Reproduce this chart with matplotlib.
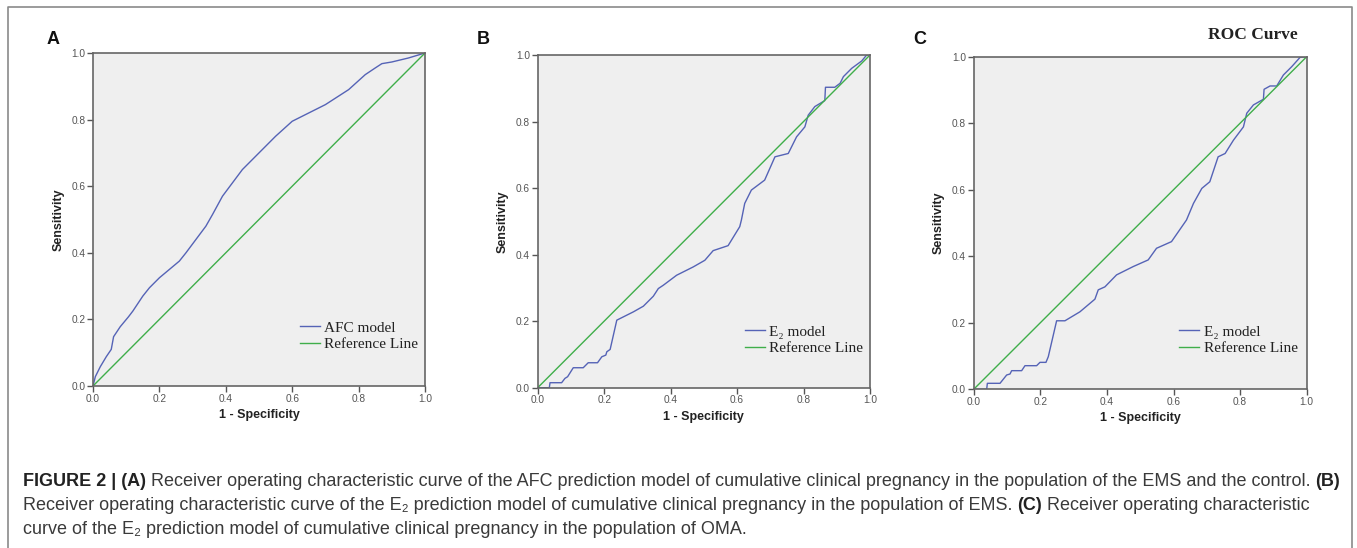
import numpy as np
import matplotlib
matplotlib.use("Agg")
import matplotlib.pyplot as plt
from matplotlib.lines import Line2D

# ROC points (1 - specificity, sensitivity)
afc_fpr = [0, 0.007, 0.022, 0.04, 0.055, 0.062, 0.082, 0.107, 0.12, 0.15, 0.17, 0.2, 0.23, 0.26,
           0.28, 0.31, 0.34, 0.36, 0.39, 0.42, 0.45, 0.5, 0.55, 0.6, 0.62, 0.7, 0.77, 0.82, 0.85,
           0.87, 0.9, 0.95, 1.0]
afc_tpr = [0, 0.028, 0.058, 0.088, 0.11, 0.148, 0.178, 0.208, 0.225, 0.27, 0.295, 0.325, 0.35, 0.375,
           0.40, 0.44, 0.48, 0.515, 0.57, 0.61, 0.65, 0.70, 0.75, 0.795, 0.805, 0.845, 0.89, 0.935,
           0.955, 0.968, 0.973, 0.985, 1.0]

ems_fpr = [0, 0.035, 0.037, 0.072, 0.082, 0.09, 0.107, 0.137, 0.152, 0.18, 0.193, 0.205, 0.208,
           0.218, 0.238, 0.258, 0.288, 0.318, 0.348, 0.363, 0.378, 0.418, 0.468, 0.503, 0.528,
           0.573, 0.608, 0.613, 0.623, 0.643, 0.683, 0.714, 0.754, 0.779, 0.804, 0.814, 0.834,
           0.864, 0.866, 0.894, 0.91, 0.92, 0.945, 0.975, 0.99, 1.0]
ems_tpr = [0, 0, 0.015, 0.015, 0.028, 0.033, 0.06, 0.06, 0.075, 0.075, 0.093, 0.098, 0.108,
           0.115, 0.203, 0.213, 0.228, 0.245, 0.275, 0.298, 0.308, 0.338, 0.363, 0.383, 0.412,
           0.427, 0.484, 0.504, 0.554, 0.594, 0.624, 0.694, 0.704, 0.754, 0.784, 0.819, 0.845,
           0.863, 0.903, 0.903, 0.915, 0.935, 0.96, 0.982, 1.0, 1.0]

oma_fpr = [0, 0.039, 0.041, 0.079, 0.091, 0.099, 0.109, 0.114, 0.144, 0.154, 0.189, 0.199, 0.217,
           0.224, 0.249, 0.274, 0.319, 0.364, 0.374, 0.394, 0.429, 0.479, 0.524, 0.549, 0.594,
           0.639, 0.66, 0.685, 0.709, 0.734, 0.755, 0.78, 0.81, 0.82, 0.84, 0.87, 0.872, 0.89,
           0.91, 0.93, 0.955, 0.98, 1.0]
oma_tpr = [0, 0, 0.018, 0.018, 0.033, 0.043, 0.046, 0.056, 0.056, 0.071, 0.071, 0.081, 0.081,
           0.098, 0.206, 0.206, 0.233, 0.271, 0.299, 0.308, 0.344, 0.369, 0.389, 0.424, 0.444,
           0.509, 0.559, 0.604, 0.624, 0.699, 0.709, 0.749, 0.789, 0.83, 0.855, 0.872, 0.902,
           0.912, 0.912, 0.945, 0.97, 0.998, 1.0]

panels = [
    ("A", "AFC model", afc_fpr, afc_tpr),
    ("B", "E\u2082 model", ems_fpr, ems_tpr),
    ("C", "E\u2082 model", oma_fpr, oma_tpr),
]
ticks = [0.0, 0.2, 0.4, 0.6, 0.8, 1.0]

W, H = 1357, 548
blue = "#5563b6"
green = "#3fae4a"
sans = ["Liberation Sans", "DejaVu Sans"]
serif = ["Liberation Serif", "DejaVu Serif"]

# axes boxes in pixels: left, top, right, bottom
boxes = [(93, 53, 425, 386), (537.7, 55, 870, 387.7), (973.7, 56.7, 1306.7, 389.3)]
legend_xy = [(0.623, 0.105), (0.624, 0.098), (0.617, 0.103)]
letter_x = [47, 477, 913]

fig = plt.figure(figsize=(W / 100, H / 100), dpi=100)

for (letter, label, fpr, tpr), (l, t, r, b), lxy, lx in zip(panels, boxes, legend_xy, letter_x):
    ax = fig.add_axes([l / W, 1 - b / H, (r - l) / W, (b - t) / H])
    ax.set_facecolor("#efefef")
    ax.plot(fpr, tpr, color=blue, lw=1.0, label=label)
    ax.plot([0, 1], [0, 1], color=green, lw=1.0, label="Reference Line")
    ax.set_xlim(0, 1)
    ax.set_ylim(0, 1)
    ax.set_xticks(ticks)
    ax.set_yticks(ticks)
    ax.set_xticklabels([f"{v:.1f}" for v in ticks], family=sans)
    ax.set_yticklabels([f"{v:.1f}" for v in ticks], family=sans)
    ax.tick_params(direction="out", length=4, width=1, color="#555555",
                   labelsize=7.3, labelcolor="#555555", pad=1.5)
    for s in ax.spines.values():
        s.set_color("#666666")
        s.set_linewidth(1.2)
    ax.set_xlabel("1 - Specificity", fontsize=9, fontweight="bold", family=sans,
                  color="#222222", labelpad=4)
    ax.set_ylabel("Sensitivity", fontsize=9, fontweight="bold", family=sans,
                  color="#222222", labelpad=5)
    ax.legend(loc="lower left", bbox_to_anchor=lxy, frameon=False, borderpad=0,
              borderaxespad=0, handlelength=1.3, handletextpad=0.3, labelspacing=0.18,
              prop={"family": serif, "size": 11}, labelcolor="#222222")
    fig.text(lx / W, 1 - 40 / H, letter, fontsize=13, fontweight="bold", family=sans,
             va="center", ha="left", color="#111111")

fig.text(1253 / W, 1 - 35 / H, "ROC Curve", fontsize=12.5, fontweight="bold", family=serif,
         ha="center", va="center", color="#222222")

# figure frame (left, top, right)
fig.add_artist(Line2D([8 / W, 8 / W, 1352 / W, 1352 / W], [0, 1 - 7 / H, 1 - 7 / H, 0],
                      transform=fig.transFigure, color="#8a8a8a", lw=1.2))

# caption with bold pieces
caption = [
    [("FIGURE 2 | (A)", True),
     (" Receiver operating characteristic curve of the AFC prediction model of cumulative clinical"
      " pregnancy in the population of the EMS and the control. ", False),
     ("(B)", True)],
    [("Receiver operating characteristic curve of the E\u2082 prediction model of cumulative clinical"
      " pregnancy in the population of EMS. ", False),
     ("(C)", True),
     (" Receiver operating characteristic", False)],
    [("curve of the E\u2082 prediction model of cumulative clinical pregnancy in the population of OMA.",
      False)],
]
line_y = [481, 506, 530]
renderer = fig.canvas.get_renderer()
for pieces, y in zip(caption, line_y):
    x = 23
    for txt, bold in pieces:
        t = fig.text(x / W, 1 - y / H, txt, fontsize=12.95, family=sans,
                     fontweight="bold" if bold else "normal",
                     color="#222222" if bold else "#3a3a3a", va="center", ha="left")
        x += t.get_window_extent(renderer).width

fig.savefig("out.png", dpi=100)
